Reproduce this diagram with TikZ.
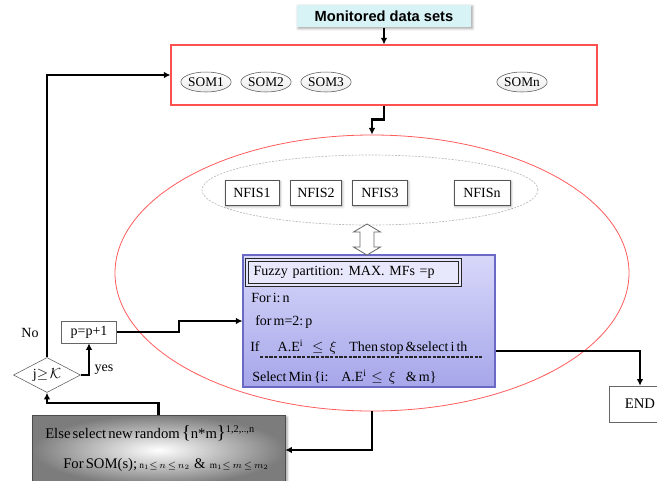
\documentclass[tikz,border=0pt]{standalone}
\usepackage{fontspec}
\setmainfont{Liberation Serif}[WordSpace=0.6]
\setsansfont{Liberation Sans}
\usepackage{amsmath,amssymb}
\usetikzlibrary{shapes.geometric, arrows.meta, positioning, calc, shadows.blur}
\definecolor{somred}{HTML}{FF5050}
\definecolor{ringred}{HTML}{FF5C5C}
\definecolor{monicyan}{HTML}{D8F3F6}
\definecolor{fuzzytop}{HTML}{D8D8FA}
\definecolor{fuzzybot}{HTML}{A6A6EA}
\definecolor{fuzzyline}{HTML}{6A6AC6}
\definecolor{boxgray}{HTML}{555555}
\definecolor{elsegray}{HTML}{7C7C7C}
\frenchspacing

\begin{document}
\begin{tikzpicture}[
  x=0.75pt, y=-0.75pt,
  somell/.style={ellipse, draw=boxgray, top color=white, bottom color=gray!15, minimum width=36pt, minimum height=15pt, inner sep=0pt, font=\fontsize{10}{12}\selectfont},
  nfisbox/.style={rectangle, draw=boxgray, fill=white, blur shadow={shadow xshift=0.8pt, shadow yshift=-0.8pt, shadow opacity=35}, minimum height=18.75pt, inner sep=3pt, font=\fontsize{10.5}{12}\selectfont},
  plainbox/.style={rectangle, draw=gray!80!black, fill=white, inner sep=0pt, font=\fontsize{10.5}{12}\selectfont},
  fzline/.style={anchor=west, inner sep=0pt, font=\fontsize{10.5}{12}\selectfont},
  elsetxt/.style={anchor=west, inner sep=0pt, font=\fontsize{11}{13}\selectfont},
  lbl/.style={inner sep=0pt, font=\fontsize{10.5}{12}\selectfont},
  flow/.style={-{Latex[length=5pt, width=5pt]}, line width=1.6pt, black},
  hollow/.style={draw=gray!80!black, fill=white, line width=0.6pt}
]
  \useasboundingbox (0,0) rectangle (657,480);

  % Input
  \node[fill=monicyan, blur shadow={shadow xshift=1pt, shadow yshift=-1pt, shadow opacity=35}, minimum width=131pt, minimum height=17pt, inner sep=0pt, font=\sffamily\bfseries\fontsize{11}{13}\selectfont] (monitored) at (384,16) {Monitored data sets};

  % SOM layer
  \node[draw=somred, line width=0.8pt, minimum width=319.5pt, minimum height=45pt] (sombox) at (384,75) {};
  \node[somell] (som1) at (206,82) {SOM1};
  \node[somell] (som2) at (266,82) {SOM2};
  \node[somell] (som3) at (326,82) {SOM3};
  \node[somell] (somn) at (522,82) {SOMn};

  % NFIS ring
  \node[ellipse, draw=ringred, line width=0.6pt, minimum width=385.5pt, minimum height=207pt] (bigring) at (372,273) {};
  \node[ellipse, draw=gray!55, dash pattern=on 1.5pt off 1pt, line width=0.5pt, minimum width=252pt, minimum height=52.5pt] (nfisring) at (370,190) {};
  \node[nfisbox, minimum width=40.5pt] (nfis1) at (252,193) {NFIS1};
  \node[nfisbox, minimum width=38.25pt] (nfis2) at (316,193) {NFIS2};
  \node[nfisbox, minimum width=41.25pt] (nfis3) at (380,193) {NFIS3};
  \node[nfisbox, minimum width=42pt] (nfisn) at (482,193) {NFISn};

  % Fuzzy partition block
  \node[draw=fuzzyline, line width=0.8pt, top color=fuzzytop, bottom color=fuzzybot, minimum width=189pt, minimum height=99pt] (fuzzy) at (369,321) {};
  \node[draw=gray!30!black, double=fuzzytop!70!white, double distance=1.4pt, line width=0.8pt, fill=fuzzytop!60!white, minimum height=18.75pt, inner ysep=0pt, inner xsep=5pt, text width=149.75pt, align=left, font=\fontsize{10.5}{12}\selectfont] (fzhead) at (353.5,272.5) {Fuzzy partition: MAX. MFs =p};
  \node[fzline] (fori) at (251,298) {For i: n};
  \node[fzline] (form) at (255,322) {for m=2: p};
  \node[fzline] (ifline) at (250,347) {If \hspace{12pt}A.E\textsuperscript{i} \hspace{5pt}$\leq\ \xi$ \hspace{8pt}Then stop \&select i th};
  \draw[gray!30!black, line width=1.2pt, dash pattern=on 2.5pt off 1pt] (260,357) -- (482,357);
  \node[fzline] (selmin) at (252,377) {Select Min \{i: \hspace{8pt}A.E\textsuperscript{i} \,$\leq\ \xi$ \hspace{6pt}\& m\}};

  % Double arrow between NFIS ring and fuzzy block
  \coordinate (dtop) at (367,224);
  \coordinate (dbot) at (367,255);
  \draw[hollow] (dtop) -- ++(13.5,8) -- ++(-6.5,0) -- ++(0,15) -- ++(6.5,0) -- (dbot) -- ++(-13.5,-8) -- ++(6.5,0) -- ++(0,-15) -- ++(-6.5,0) -- cycle;

  % Loop on the left
  \node[plainbox, minimum width=41.25pt, minimum height=16.5pt] (pinc) at (89,332) {p=p+1};
  \node[diamond, aspect=2, draw=gray!70!black, fill=white, minimum width=50.25pt, minimum height=26.25pt, inner sep=0pt, font=\fontsize{10.5}{12}\selectfont] (cond) at (47,375) {j$\geq\!\mathcal{K}$};
  \node[lbl] (nolbl) at (30,333) {No};
  \node[lbl] (yeslbl) at (104,370) {yes};

  % End and else blocks
  \node[plainbox, minimum width=46.5pt, minimum height=27pt, font=\fontsize{11}{13}\selectfont] (endbox) at (640,404) {END};
  \node[draw=gray!60!black, shading=radial, inner color=white, outer color=elsegray, blur shadow={shadow xshift=1.5pt, shadow yshift=-1.5pt, shadow opacity=40}, minimum width=189.75pt, minimum height=52.5pt] (elsebox) at (158.5,450) {};
  \node[elsetxt] (else1) at (45,433) {Else select new random {\fontsize{14}{14}\selectfont\{}n*m{\fontsize{14}{14}\selectfont\}}\textsuperscript{1,2,..,n}};
  \node[elsetxt] (else2) at (63,465) {For SOM(s); {\scriptsize$\mathrm{n}_1{\leq}\, n\,{\leq}\, n_2$} \ \& \ {\scriptsize$\mathrm{m}_1{\leq}\, m\,{\leq}\, m_2$}};

  % Connections
  \draw[flow] (monitored) -- (sombox);
  \draw[flow] (sombox.south) -- ++(0,14) -| (bigring.north);
  \draw[flow] (pinc.east) -- ++(62,0) |- (fuzzy.west);
  \draw[flow] (cond.east) -| (pinc.south);
  \draw[flow] (cond.north) |- (sombox.west);
  \draw[flow] (elsebox.north) -- ++(0,-12) -| (cond.south);
  \draw[flow] (bigring.south) |- (elsebox.east);
  \draw[flow] ([yshift=-22.5pt]fuzzy.east) -| (endbox.north);
\end{tikzpicture}
\end{document}
